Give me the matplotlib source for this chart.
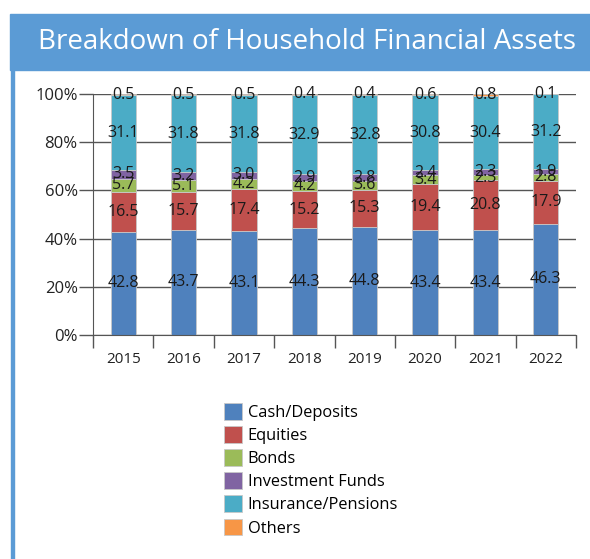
import matplotlib
matplotlib.use("Agg")
import matplotlib.pyplot as plt
from matplotlib.patches import Rectangle
import numpy as np

years = ["2015", "2016", "2017", "2018", "2019", "2020", "2021", "2022"]
cash = [42.8, 43.7, 43.1, 44.3, 44.8, 43.4, 43.4, 46.3]
equities = [16.5, 15.7, 17.4, 15.2, 15.3, 19.4, 20.8, 17.9]
bonds = [5.7, 5.1, 4.2, 4.2, 3.6, 3.4, 2.3, 2.8]
funds = [3.5, 3.2, 3.0, 2.9, 2.8, 2.4, 2.3, 1.9]
insurance = [31.1, 31.8, 31.8, 32.9, 32.8, 30.8, 30.4, 31.2]
others = [0.5, 0.5, 0.5, 0.4, 0.4, 0.6, 0.8, 0.1]
series_names = ["Cash/Deposits", "Equities", "Bonds", "Investment Funds",
                "Insurance/Pensions", "Others"]
series = [cash, equities, bonds, funds, insurance, others]
colors = ["#4F81BD", "#C0504D", "#9BBB59", "#8064A2", "#4BACC6", "#F79646"]
title = "Breakdown of Household Financial Assets"

W, H = 590, 559
fig = plt.figure(figsize=(W / 100, H / 100), dpi=100)
font = "Open Sans"

# banner
fig.patches.append(Rectangle((10 / W, 1 - 70 / H), 580 / W, 56 / H,
                             transform=fig.transFigure, color="#5B9BD5", zorder=0))
fig.patches.append(Rectangle((11 / W, 0), 3 / W, 1 - 70 / H,
                             transform=fig.transFigure, color="#5B9BD5", zorder=0))
fig.text(307 / W, 1 - 42 / H, title, color="white", fontsize=20,
         family=font, ha="center", va="center")

ax = fig.add_axes([93 / W, 1 - 335 / H, (576 - 93) / W, (335 - 94) / H])
data = np.array(series, dtype=float)
totals = data.sum(axis=0)
pct = data / totals * 100
x = np.arange(len(years))
bottom = np.zeros(len(years))
for i, name in enumerate(series_names):
    ax.bar(x, pct[i], 0.42, bottom=bottom, color=colors[i], label=name,
           edgecolor="#C8C8C8", linewidth=0.6, zorder=2)
    for j in range(len(years)):
        ax.text(x[j], bottom[j] + pct[i][j] / 2, f"{data[i][j]:.1f}",
                ha="center", va="center", fontsize=11.5, family=font,
                color="#1a1a1a", zorder=3)
    bottom += pct[i]

ax.set_xlim(-0.5, len(years) - 0.5)
ax.set_ylim(0, 100)
ax.set_yticks(np.arange(0, 101, 20))
ax.set_yticklabels([f"{v}%" for v in range(0, 101, 20)], family=font, fontsize=12,
                   color="#222222")
ax.yaxis.grid(True, color="#555555", linewidth=1, zorder=0)
ax.set_axisbelow(True)
ax.tick_params(axis="y", length=10, width=1, color="#555555", pad=1)
ax.set_xticks(x)
ax.set_xticklabels(years, family=font, fontsize=11, color="#222222")
ax.tick_params(axis="x", length=0, pad=12)
ax.set_xticks(np.arange(-0.5, len(years), 1), minor=True)
ax.tick_params(axis="x", which="minor", length=9, width=1, color="#555555")
for s in ["top", "right"]:
    ax.spines[s].set_visible(False)
for s in ["left", "bottom"]:
    ax.spines[s].set_color("#555555")

handles, labels = ax.get_legend_handles_labels()
leg = fig.legend(handles, labels, loc="upper left",
                 bbox_to_anchor=(209 / W, 1 - 388 / H), frameon=False,
                 prop={"family": font, "size": 11.8}, handlelength=1.1,
                 handleheight=1.2, handletextpad=0.35, labelspacing=0.32)
for h in leg.legend_handles:
    h.set_edgecolor("#C8C8C8")

fig.savefig("out.png", dpi=100)
